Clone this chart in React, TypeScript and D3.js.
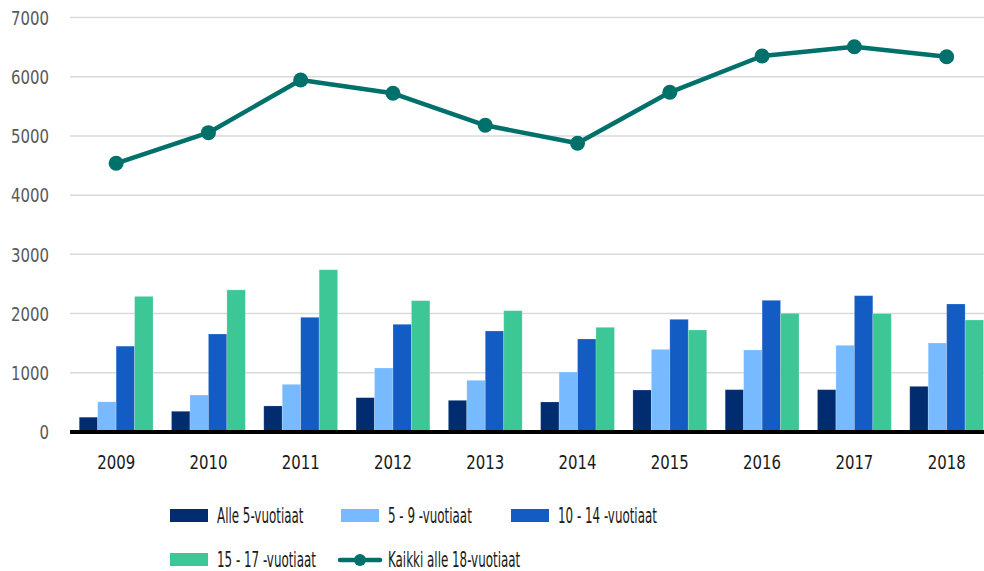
import React from "react";
import * as d3 from "d3";

const years = ["2009", "2010", "2011", "2012", "2013", "2014", "2015", "2016", "2017", "2018"];
const alle5 = [250, 350, 440, 580, 535, 507, 709, 715, 715, 771];
const v5to9 = [510, 625, 805, 1081, 873, 1013, 1396, 1385, 1464, 1503];
const v10to14 = [1450, 1655, 1937, 1819, 1706, 1571, 1903, 2224, 2302, 2162];
const v15to17 = [2290, 2400, 2740, 2218, 2049, 1768, 1723, 2004, 1999, 1892];
const kaikki = [4538, 5055, 5945, 5720, 5180, 4876, 5737, 6350, 6507, 6338];
const yTicks = [0, 1000, 2000, 3000, 4000, 5000, 6000, 7000];

const barSeries = [
  { name: "Alle 5-vuotiaat", values: alle5, color: "#012c6f" },
  { name: "5 - 9 -vuotiaat", values: v5to9, color: "#78baff" },
  { name: "10 - 14 -vuotiaat", values: v10to14, color: "#125cc3" },
  { name: "15 - 17 -vuotiaat", values: v15to17, color: "#3dc797" },
];
const lineName = "Kaikki alle 18-vuotiaat";
const lineColor = "#00706b";

const W = 984;
const H = 571;
const FONT = "'DejaVu Sans Condensed', 'DejaVu Sans', sans-serif";

export default function App() {
  const left = 70;
  const right = 992.8;
  const y = d3.scaleLinear().domain([0, 7000]).range([432, 17.5]);
  const x0 = d3.scaleBand<string>().domain(years).range([left, right]).paddingInner(0.2).paddingOuter(0.1);
  const x1 = d3
    .scaleBand<string>()
    .domain(barSeries.map((s) => s.name))
    .range([0, x0.bandwidth()]);

  const line = d3
    .line<number>()
    .x((_, i) => (x0(years[i]) as number) + x0.bandwidth() / 2)
    .y((d) => y(d));

  const legendRow1 = 509;
  const legendRow2 = 553;
  const legendItems = [
    { x: 170, y: legendRow1, s: barSeries[0] },
    { x: 341, y: legendRow1, s: barSeries[1] },
    { x: 511, y: legendRow1, s: barSeries[2] },
    { x: 170, y: legendRow2, s: barSeries[3] },
  ];

  const legendScale = 0.63;
  const digitScale = 0.83;

  return (
    <svg
      width={W}
      height={H}
      style={{ position: "absolute", left: 0, top: 0, background: "#fff" }}
      fontFamily={FONT}
    >
      {yTicks.map((t) => (
        <line key={t} x1={left} x2={W} y1={y(t)} y2={y(t)} stroke="#d9d9d9" strokeWidth={1.5} />
      ))}
      {yTicks.map((t) => (
        <text
          key={"l" + t}
          transform={`translate(49,${y(t)}) scale(${digitScale},1)`}
          dy="0.36em"
          textAnchor="end"
          fontSize={20}
          fill="#595959"
        >
          {t}
        </text>
      ))}
      {years.map((yr, i) => (
        <g key={yr} transform={`translate(${x0(yr)},0)`}>
          {barSeries.map((s) => (
            <rect
              key={s.name}
              x={x1(s.name)}
              y={y(s.values[i])}
              width={x1.bandwidth()}
              height={y(0) - y(s.values[i])}
              fill={s.color}
              stroke="#ffffff"
              strokeOpacity={0.25}
              strokeWidth={0.8}
            />
          ))}
        </g>
      ))}
      <line x1={left} x2={W} y1={y(0)} y2={y(0)} stroke="#000" strokeWidth={4} />
      {years.map((yr) => (
        <text
          key={"x" + yr}
          transform={`translate(${(x0(yr) as number) + x0.bandwidth() / 2},469) scale(${digitScale},1)`}
          textAnchor="middle"
          fontSize={20}
          fill="#1a1a1a"
        >
          {yr}
        </text>
      ))}
      <path d={line(kaikki) || ""} fill="none" stroke={lineColor} strokeWidth={4.5} strokeLinejoin="round" />
      {kaikki.map((v, i) => (
        <circle
          key={"c" + i}
          cx={(x0(years[i]) as number) + x0.bandwidth() / 2}
          cy={y(v)}
          r={7.5}
          fill={lineColor}
        />
      ))}
      {legendItems.map((it) => (
        <g key={it.s.name}>
          <rect x={it.x} y={it.y} width={38} height={13} fill={it.s.color} />
          <text
            transform={`translate(${it.x + 47},${it.y + 13.5}) scale(${legendScale},1)`}
            fontSize={21}
            fill="#1a1a1a"
          >
            {it.s.name}
          </text>
        </g>
      ))}
      <g>
        <line x1={340} x2={380} y1={legendRow2 + 7} y2={legendRow2 + 7} stroke={lineColor} strokeWidth={4.5} strokeLinecap="round" />
        <circle cx={360} cy={legendRow2 + 7} r={6} fill={lineColor} />
        <text
          transform={`translate(388,${legendRow2 + 13.5}) scale(${legendScale},1)`}
          fontSize={21}
          fill="#1a1a1a"
        >
          {lineName}
        </text>
      </g>
    </svg>
  );
}
